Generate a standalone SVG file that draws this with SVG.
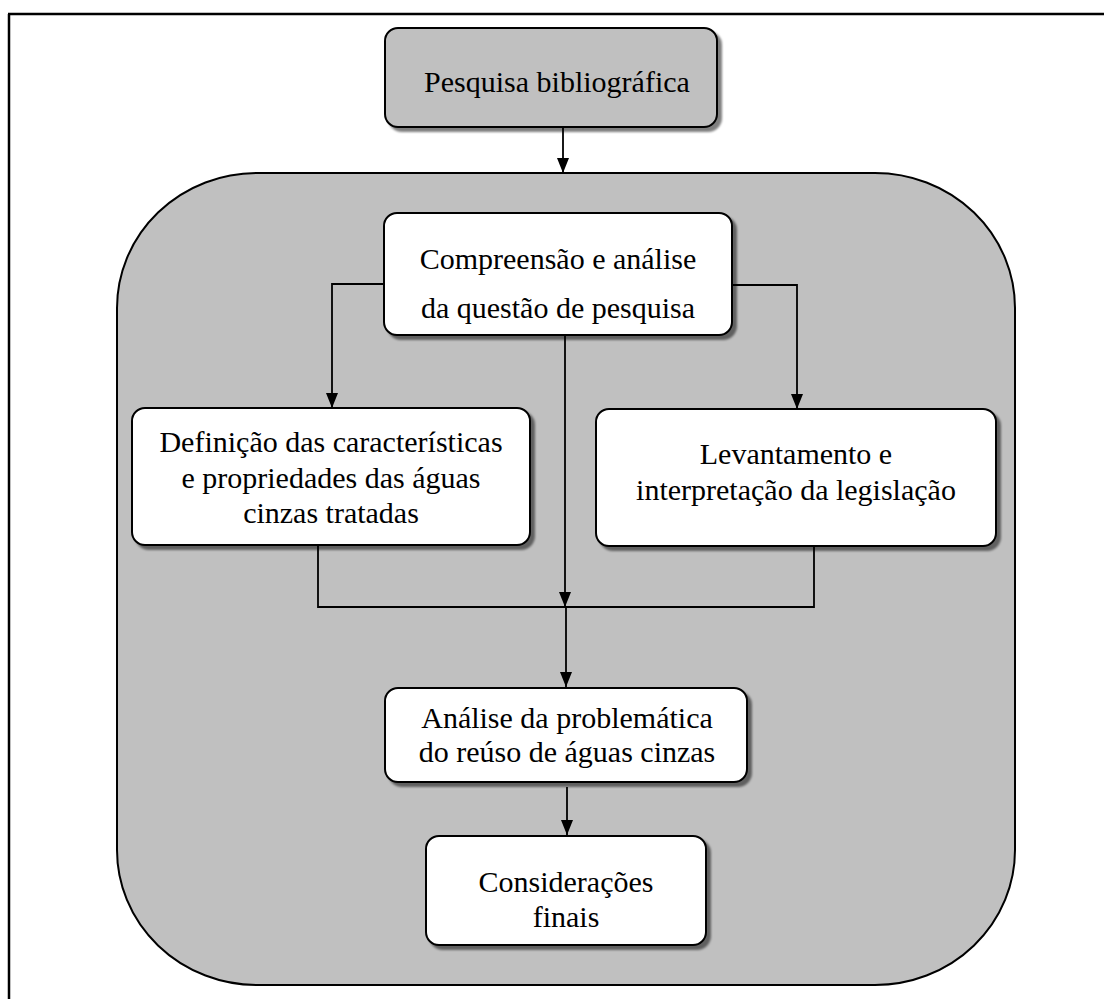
<svg xmlns="http://www.w3.org/2000/svg" width="1104" height="999" viewBox="0 0 1104 999">
<style>
.box{fill:#ffffff;stroke:#000;stroke-width:2;filter:url(#sh)}
.gbox{fill:#c0c0c0;stroke:#000;stroke-width:2;filter:url(#sh)}
.t{font-family:"Liberation Serif","Times New Roman",serif;font-size:30px;fill:#000;text-anchor:middle}
.c{fill:none;stroke:#000;stroke-width:1.8}
.a{marker-end:url(#ah)}
</style>
<defs>
<filter id="sh" x="-10%" y="-10%" width="130%" height="130%">
<feDropShadow dx="4" dy="4" stdDeviation="1.2" flood-color="#000" flood-opacity="0.5"/>
</filter>
<marker id="ah" markerUnits="userSpaceOnUse" markerWidth="15" markerHeight="12" refX="15" refY="6" orient="auto">
<path d="M0,0 L15,6 L0,12 z" fill="#000"/>
</marker>
</defs>
<rect width="1104" height="999" fill="#fff"/>
<g id="frame">
<path d="M8,14 H1104 M9,14 V999" fill="none" stroke="#000" stroke-width="2.5"/>
</g>
<g id="container">
<rect x="117" y="173" width="898" height="812" rx="140" ry="135" fill="#c0c0c0" stroke="#000" stroke-width="2"/>
</g>
<g id="n-pesquisa">
<rect class="gbox" x="385" y="28" width="332" height="99" rx="13"/>
<text class="t" x="557" y="92">Pesquisa bibliográfica</text>
</g>
<g id="connectors">
<path class="c a" d="M563,127 V173"/>
<path class="c a" d="M384,284 H332 V408"/>
<path class="c a" d="M732,285 H797 V409"/>
<path class="c a" d="M565,335 V607"/>
<path class="c" d="M318,545 V607 H814 V546"/>
<path class="c a" d="M566,607 V687"/>
<path class="c a" d="M567,787 V835"/>
</g>
<g id="n-compreensao">
<rect class="box" x="384" y="213" width="348" height="122" rx="13"/>
<text class="t" x="558" y="269">Compreensão e análise</text>
<text class="t" x="558" y="318">da questão de pesquisa</text>
</g>
<g id="n-definicao">
<rect class="box" x="132" y="408" width="398" height="137" rx="13"/>
<text class="t" x="331" y="452">Definição das características</text>
<text class="t" x="331" y="488">e propriedades das águas</text>
<text class="t" x="331" y="523">cinzas tratadas</text>
</g>
<g id="n-levantamento">
<rect class="box" x="596" y="409" width="400" height="137" rx="13"/>
<text class="t" x="796" y="464">Levantamento e</text>
<text class="t" x="796" y="500">interpretação da legislação</text>
</g>
<g id="n-analise">
<rect class="box" x="385" y="688" width="362" height="94" rx="13"/>
<text class="t" x="567" y="728">Análise da problemática</text>
<text class="t" x="567" y="762">do reúso de águas cinzas</text>
</g>
<g id="n-consideracoes">
<rect class="box" x="426" y="836" width="280" height="109" rx="13"/>
<text class="t" x="566" y="892">Considerações</text>
<text class="t" x="566" y="927">finais</text>
</g>
</svg>
